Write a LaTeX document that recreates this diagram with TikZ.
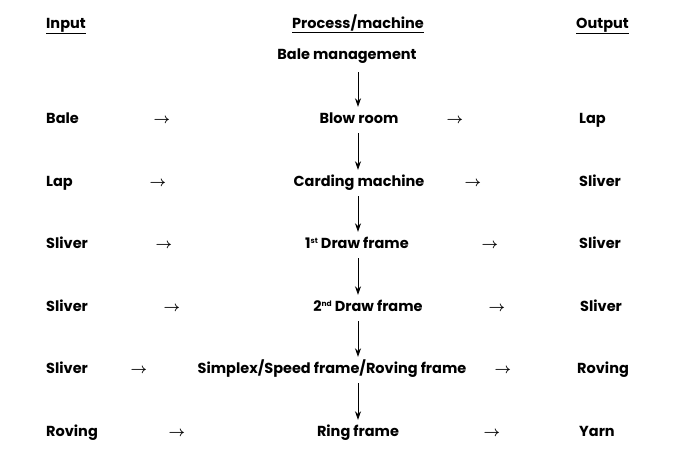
\documentclass[tikz,border=0pt]{standalone}
\usepackage{fontspec}
\setmainfont{Poppins}
\usetikzlibrary{arrows.meta}
\newcommand{\sups}[1]{\raisebox{4.5pt}{\fontsize{7.5}{8}\selectfont #1}}
\begin{document}
\begin{tikzpicture}[x=1pt,y=-1pt,
  lbl/.style={font=\fontsize{14.5}{16}\selectfont\bfseries, inner sep=0pt, text height=11pt, text depth=3pt},
  lft/.style={lbl, anchor=base west},
  ctr/.style={lbl, anchor=base},
  harr/.style={font=\fontsize{15}{16}\selectfont\boldmath, inner sep=0pt, anchor=base},
  varr/.style={-{Stealth[length=8.5pt,width=6pt]}, line width=0.8pt}]
\useasboundingbox (0,0) rectangle (682,469);
% headers
\node[lft] (hin) at (46,28) {\underline{Input}};
\node[ctr] (hpr) at (358,28) {\underline{Process/machine}};
\node[lft] (hout) at (576,28) {\underline{Output}};
\node[ctr] (bm) at (347,59) {Bale management};
% input column
\node[lft] (i1) at (46,123) {Bale};
\node[lft] (i2) at (46,186) {Lap};
\node[lft] (i3) at (46,248) {Sliver};
\node[lft] (i4) at (46,311) {Sliver};
\node[lft] (i5) at (46,373) {Sliver};
\node[lft] (i6) at (46,436) {Roving};
% left arrows
\node[harr] (la1) at (162,123) {$\rightarrow$};
\node[harr] (la2) at (158,186) {$\rightarrow$};
\node[harr] (la3) at (164,248) {$\rightarrow$};
\node[harr] (la4) at (172,311) {$\rightarrow$};
\node[harr] (la5) at (139,373) {$\rightarrow$};
\node[harr] (la6) at (177,436) {$\rightarrow$};
% process column
\node[ctr] (p1) at (359,123) {Blow room};
\node[ctr] (p2) at (359,186) {Carding machine};
\node[ctr] (p3) at (357,248) {1\sups{st} Draw frame};
\node[ctr] (p4) at (368,311) {2\sups{nd}\ Draw frame};
\node[ctr] (p5) at (332,373) {Simplex/Speed frame/Roving frame};
\node[ctr] (p6) at (358,436) {Ring frame};
% right arrows
\node[harr] (ra1) at (455,123) {$\rightarrow$};
\node[harr] (ra2) at (473,186) {$\rightarrow$};
\node[harr] (ra3) at (490,248) {$\rightarrow$};
\node[harr] (ra4) at (497,311) {$\rightarrow$};
\node[harr] (ra5) at (503,373) {$\rightarrow$};
\node[harr] (ra6) at (492,436) {$\rightarrow$};
% output column
\node[lft] (o1) at (579,123) {Lap};
\node[lft] (o2) at (579,186) {Sliver};
\node[lft] (o3) at (579,248) {Sliver};
\node[lft] (o4) at (580,311) {Sliver};
\node[lft] (o5) at (577,373) {Roving};
\node[lft] (o6) at (579,436) {Yarn};
% vertical arrows
\coordinate (ax) at (358,0);
\draw[varr, shorten <=10pt, shorten >=5pt] (ax |- bm.south) -- (ax |- p1.north);
\draw[varr, shorten <=7pt, shorten >=5pt] (ax |- p1.south) -- (ax |- p2.north);
\draw[varr, shorten <=7pt, shorten >=5pt] (ax |- p2.south) -- (ax |- p3.north);
\draw[varr, shorten <=7pt, shorten >=5pt] (ax |- p3.south) -- (ax |- p4.north);
\draw[varr, shorten <=7pt, shorten >=5pt] (ax |- p4.south) -- (ax |- p5.north);
\draw[varr, shorten <=7pt, shorten >=5pt] (ax |- p5.south) -- (ax |- p6.north);
\end{tikzpicture}
\end{document}
